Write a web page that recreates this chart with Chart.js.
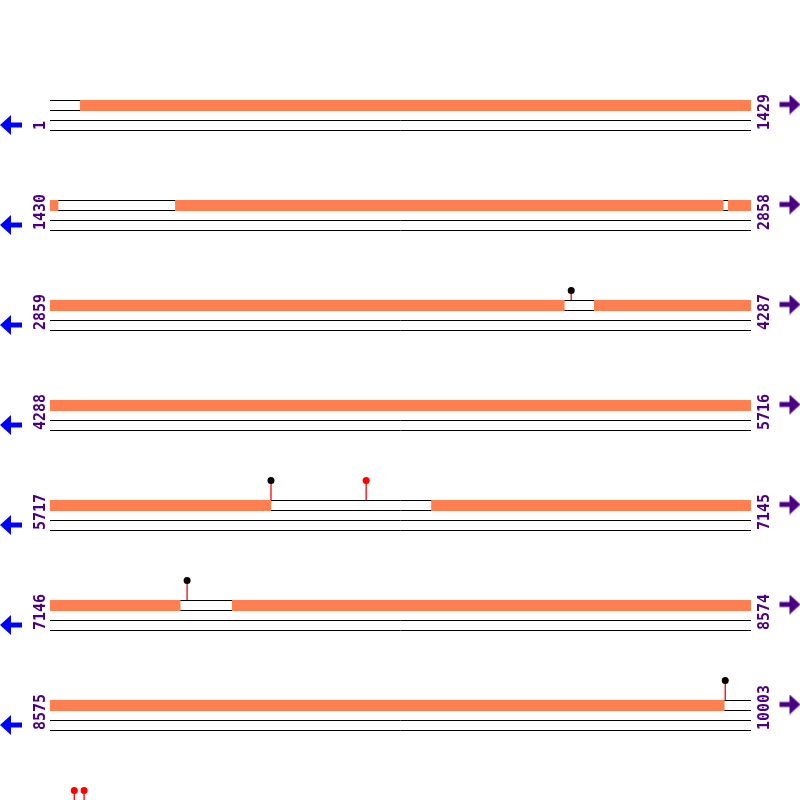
<!DOCTYPE html>
<html>
<head>
<meta charset="utf-8">
<script src="https://cdn.jsdelivr.net/npm/chart.js@4.4.1/dist/chart.umd.min.js"></script>
<style>
  html, body { margin: 0; padding: 0; background: #fff; }
  canvas { display: block; }
</style>
</head>
<body>
<canvas id="map" width="800" height="800"></canvas>
<script>
// ---- data ----
const ROW_LEN = 1429;
const rowStarts = [1, 1430, 2859, 4288, 5717, 7146, 8575];
const rowEnds   = [1429, 2858, 4287, 5716, 7145, 8574, 10003];

// orange features (genomic coords)
const featStarts = [62, 1685, 2812, 3968, 6494, 7517];
const featEnds   = [1446, 2802, 3907, 6167, 7411, 9949];

// lollipop sites
const sitePos    = [3921, 6167, 6361, 7425, 9951, 10053, 10073];
const siteColors = ["#000000", "#000000", "#ff0000", "#000000", "#000000", "#ff0000", "#ff0000"];
const siteLevel  = [1, 2, 2, 2, 2, 1, 1];

// ---- layout ----
const BP_PER_PX = ROW_LEN / 701;
const X_MIN = -50 * BP_PER_PX;
const X_MAX = 750 * BP_PER_PX;
const LEFT_ARROW_X = -39 * BP_PER_PX;
const RIGHT_ARROW_X = 739.5 * BP_PER_PX;
const LEFT_LABEL_X = -9 * BP_PER_PX;
const RIGHT_LABEL_X = 715 * BP_PER_PX;

const ORANGE = "#ff7f50";
const BLUE = "#0000ff";
const PURPLE = "#4b0082";

// ---- arrow glyphs ----
function makeArrow(dir, color) {
  const c = document.createElement("canvas");
  c.width = 22; c.height = 20;
  const g = c.getContext("2d");
  g.fillStyle = color;
  g.beginPath();
  if (dir < 0) {
    g.moveTo(0, 10); g.lineTo(11, 0); g.lineTo(11, 20); g.closePath();
    g.fill();
    g.fillRect(11, 7.5, 11, 5);
  } else {
    g.moveTo(22, 10); g.lineTo(11, 0); g.lineTo(11, 20); g.closePath();
    g.fill();
    g.fillRect(1, 7.5, 10, 5);
  }
  return c;
}
const leftArrow = makeArrow(-1, BLUE);
const rightArrow = makeArrow(1, PURPLE);

// ---- build series ----
const trackLines = [];
const bands = [];
const leftArrows = [];
const rightArrows = [];

rowStarts.forEach((s, i) => {
  const e = rowEnds[i];
  const top = i + 1;
  [0, 0.1, 0.2, 0.3].forEach(d => {
    trackLines.push({x: 0, y: top + d + 0.005}, {x: e - s + 1, y: top + d + 0.005}, {x: e - s + 1, y: null});
  });
  featStarts.forEach((a, j) => {
    const b = featEnds[j];
    if (b < s || a > e) return;
    const lo = Math.max(a, s) - s;
    const hi = Math.min(b, e) - s + 1;
    bands.push({x: lo, y: top + 0.055}, {x: hi, y: top + 0.055}, {x: hi, y: null});
  });
  leftArrows.push({x: LEFT_ARROW_X, y: top + 0.25});
  rightArrows.push({x: RIGHT_ARROW_X, y: top + 0.045});
});

const stems = [];
const heads = [];
sitePos.forEach((p, j) => {
  const row = Math.floor((p - 1) / ROW_LEN);
  const off = p - (1 + row * ROW_LEN) + 0.5;
  const top = row + 1;
  const headY = top - 0.1 * siteLevel[j] + 0.005;
  stems.push({x: off, y: top}, {x: off, y: headY}, {x: off, y: null});
  heads.push({x: off, y: headY});
});

// ---- labels ----
const rowLabels = {
  id: "rowLabels",
  afterDatasetsDraw(chart) {
    const {ctx, scales: {x, y}} = chart;
    ctx.save();
    ctx.fillStyle = PURPLE;
    ctx.font = 'bold 15px "DejaVu Sans Mono"';
    ctx.textBaseline = "middle";
    ctx.textAlign = "left";
    rowStarts.forEach((s, i) => {
      [[s, LEFT_LABEL_X], [rowEnds[i], RIGHT_LABEL_X]].forEach(([t, lx]) => {
        ctx.save();
        ctx.translate(x.getPixelForValue(lx), y.getPixelForValue(i + 1.3));
        ctx.rotate(-Math.PI / 2);
        ctx.fillText(String(t), 0, 0);
        ctx.restore();
      });
    });
    ctx.restore();
  }
};

new Chart(document.getElementById("map"), {
  type: "line",
  data: {
    datasets: [
      {data: trackLines, order: 6, borderColor: "#000", borderWidth: 1, pointRadius: 0, spanGaps: false},
      {data: bands, order: 5, borderColor: ORANGE, borderWidth: 11, borderCapStyle: "butt", pointRadius: 0, spanGaps: false},
      {data: stems, order: 4, borderColor: "#ff0000", borderWidth: 1.3, pointRadius: 0, spanGaps: false},
      {data: heads, order: 3, showLine: false, pointRadius: 3.5, pointBorderWidth: 0,
       pointBackgroundColor: siteColors, pointBorderColor: siteColors},
      {data: leftArrows, order: 2, showLine: false, pointRadius: 10, pointStyle: leftArrow},
      {data: rightArrows, order: 1, showLine: false, pointRadius: 10, pointStyle: rightArrow}
    ]
  },
  options: {
    responsive: false,
    animation: false,
    events: [],
    layout: {padding: 0, autoPadding: false},
    plugins: {legend: {display: false}, tooltip: {enabled: false}},
    scales: {
      x: {type: "linear", min: X_MIN, max: X_MAX, display: false},
      y: {type: "linear", min: 0, max: 8, reverse: true, display: false}
    }
  },
  plugins: [rowLabels]
});
</script>
</body>
</html>
